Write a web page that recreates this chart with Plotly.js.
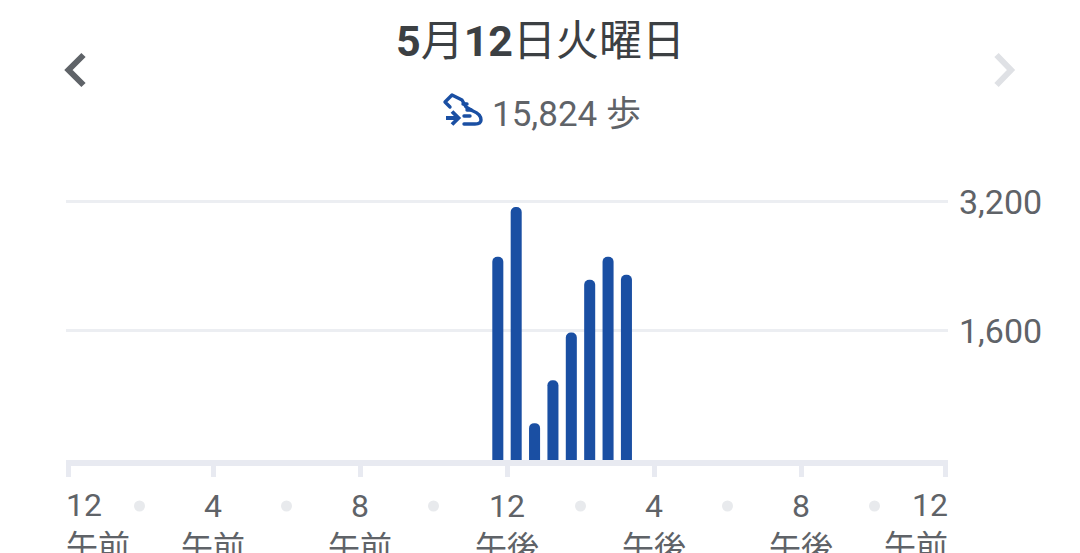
<!DOCTYPE html>
<html><head><meta charset="utf-8">
<script src="https://cdn.plot.ly/plotly-3.0.1.min.js"></script>
<style>html,body{margin:0;padding:0;background:#fff;overflow:hidden}#c{width:1080px;height:553px}</style>
</head><body><div id="c"></div>
<script>
const hours=[11.75,12.25,12.75,13.25,13.75,14.25,14.75,15.25];
const steps=[2520,3138,457,988,1581,2236,2520,2298];
const tickHours=[0.07,4,8,12,16,20,23.93];
const tickLabels=['','4<br>午前','8<br>午前','12<br>午後','4<br>午後','8<br>午後',''];
const dotHours=[2,6,10,14,18,22];
const yTicks=[1600,3200];
const yLabels=['1,600','3,200'];
const FONT='Roboto,"Noto Sans CJK JP",sans-serif';
const W=1080,H=553,L=66,R=948,T=194,B=460;
const svg=s=>'data:image/svg+xml;utf8,'+encodeURIComponent(s);
const chev=(d,c)=>svg(`<svg xmlns="http://www.w3.org/2000/svg" viewBox="0 0 30 50"><path d="${d}" fill="none" stroke="${c}" stroke-width="6"/></svg>`);
const shoe=svg(`<svg xmlns="http://www.w3.org/2000/svg" viewBox="0 0 60 50"><g fill="none" stroke="#1a4fa3" stroke-width="3.4" stroke-linejoin="round" stroke-linecap="round"><path d="M15 22 L10 17 L17 10 L27 15 L31 22 L38 26 Q46 29 46 35 Q46 39 40 39 L29 39"/><path d="M28 19 h4 M32 25 h4 M29 31 h6"/></g><path d="M11 33 H23 M17 26.5 L23.5 33 L17 39.5" fill="none" stroke="#1a4fa3" stroke-width="3.8"/></svg>`);
function img(src,x,y,w,h){return {source:src,xref:'paper',yref:'paper',x:(x-L)/(R-L),y:1-(y-T)/(B-T),sizex:w/(R-L),sizey:h/(B-T),xanchor:'left',yanchor:'top',sizing:'stretch',layer:'above'};}
const dots=dotHours.map(h=>({type:'circle',xref:'x',yref:'paper',xsizemode:'pixel',ysizemode:'pixel',xanchor:h,yanchor:1-(506-T)/(B-T),x0:-5.5,x1:5.5,y0:-5.5,y1:5.5,fillcolor:'#e8eaed',line:{width:0}}));
function note(text,x,y,size,color,anchor){return {text,xref:'paper',yref:'paper',x:(x-L)/(R-L),y:1-(y-T)/(B-T),xanchor:anchor,yanchor:'middle',showarrow:false,font:{family:FONT,size,color},align:anchor};}
const data=[{type:'bar',x:hours,y:steps,width:0.3,marker:{color:'#1a4fa3',cornerradius:5.5,line:{width:0}},hoverinfo:'skip'}];
const layout={width:W,height:H,paper_bgcolor:'#fff',plot_bgcolor:'#fff',showlegend:false,
margin:{l:L,r:W-R,t:T,b:H-B,pad:0},
xaxis:{range:[0,24],tickmode:'array',tickvals:tickHours,ticktext:tickLabels,ticks:'outside',ticklen:11,tickwidth:5,tickcolor:'#e8eaf1',showline:true,linewidth:6,linecolor:'#e8eaf1',showgrid:false,zeroline:false,tickangle:0,tickfont:{family:FONT,size:32,color:'#5f6368'},ticklabelstandoff:2,fixedrange:true},
yaxis:{range:[0,3299],side:'right',tickmode:'array',tickvals:yTicks,ticktext:yLabels,ticks:'',showline:false,showgrid:true,gridcolor:'#eceef2',gridwidth:3,zeroline:false,tickfont:{family:FONT,size:34,color:'#5f6368'},ticklabelstandoff:10,fixedrange:true},
shapes:dots,
annotations:[
note('<b>5</b>月<b>12</b>日火曜日',540,41,43,'#3c4043','center'),
note('15,824 歩',490,114,35,'#5f6368','left'),
note('12<br>午前',64,526,32,'#5f6368','left'),
note('12<br>午前',950,526,32,'#5f6368','right')
],
images:[
img(chev('M23.5 10 L8.5 25 L23.5 40','#5f6368'),60,45,30,50),
img(chev('M6.5 10 L21 25 L6.5 40','#dfe1e5'),990,45,30,50),
img(shoe,435,85,60,50)
]};
Plotly.newPlot('c',data,layout,{displayModeBar:false,staticPlot:true});
</script></body></html>
